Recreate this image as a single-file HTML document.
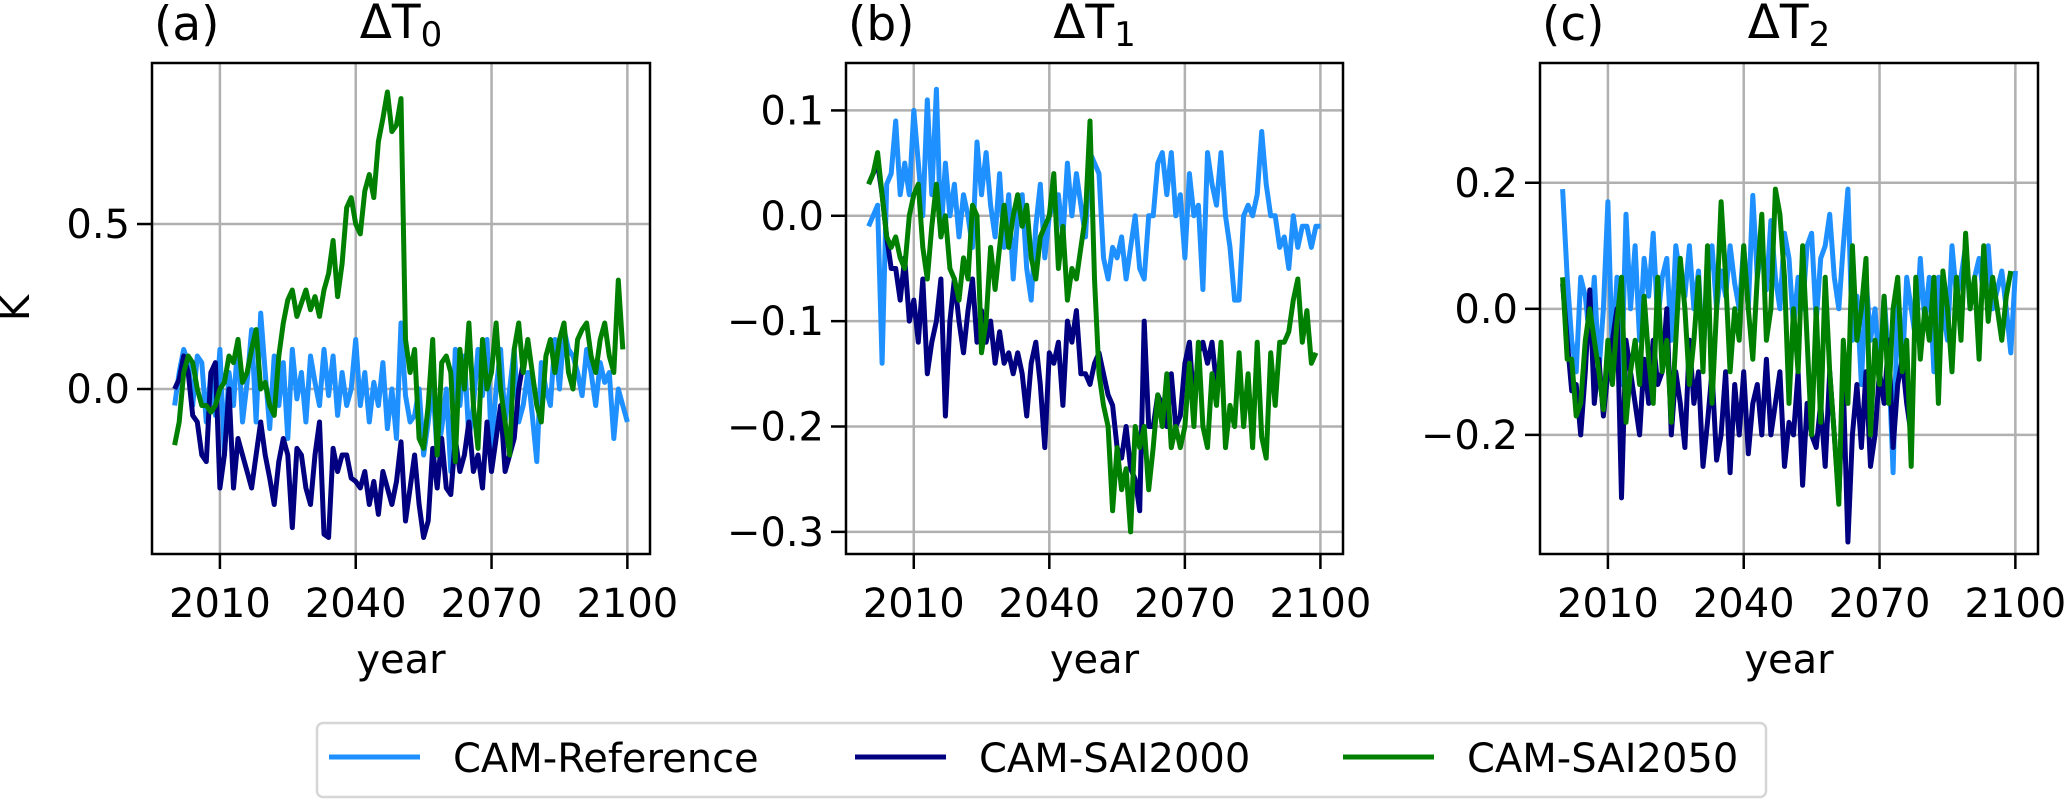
<!DOCTYPE html>
<html><head><meta charset="utf-8"><style>
html,body{margin:0;padding:0;background:#fff;}
svg{display:block;font-family:"DejaVu Sans","Liberation Sans",sans-serif;}
</style></head><body>
<svg id="chart" width="2067" height="800" viewBox="0 0 2067 800"></svg>
<script>
const years0 = 2000;
const xTicks = [2010, 2040, 2070, 2100];
const seriesNames = ["CAM-Reference", "CAM-SAI2000", "CAM-SAI2050"];
const aRef = [-0.05,0.05,0.12,0.08,-0.05,0.1,0.08,-0.1,0.05,-0.08,0.12,-0.2,0.05,-0.05,0.15,-0.1,0.02,0.18,-0.1,0.23,0.05,-0.12,0.1,-0.05,0.08,-0.15,0.12,-0.03,0.05,-0.1,0.1,0.02,-0.05,0.12,-0.02,0.1,-0.08,0.05,-0.05,0.0,0.15,-0.05,0.05,-0.1,0.02,-0.05,0.08,-0.12,0.0,-0.15,0.2,-0.02,-0.1,-0.08,0.0,-0.2,-0.1,0.02,-0.2,-0.12,0.0,-0.25,0.12,-0.05,0.1,-0.15,-0.05,0.12,-0.02,0.15,-0.18,0.0,0.12,-0.1,0.0,0.12,-0.1,-0.05,0.05,-0.08,-0.22,0.08,0.0,-0.05,0.15,0.0,0.18,0.12,0.1,0.05,-0.02,0.12,0.05,-0.05,0.08,0.02,0.05,-0.15,0.0,-0.05,-0.1];
const aSai2000 = [0.0,0.03,0.1,0.05,-0.08,-0.1,-0.2,-0.22,0.05,0.08,-0.3,-0.2,0.0,-0.3,-0.15,-0.2,-0.25,-0.3,-0.2,-0.1,-0.2,-0.27,-0.35,-0.22,-0.15,-0.2,-0.42,-0.18,-0.2,-0.3,-0.35,-0.2,-0.1,-0.44,-0.45,-0.18,-0.25,-0.2,-0.2,-0.27,-0.28,-0.3,-0.25,-0.35,-0.28,-0.38,-0.25,-0.3,-0.35,-0.28,-0.16,-0.4,-0.3,-0.2,-0.35,-0.45,-0.4,-0.18,-0.3,-0.15,-0.3,-0.32,-0.15,-0.25,-0.2,-0.1,-0.25,-0.2,-0.3,-0.1,-0.25,-0.15,-0.05,-0.25,-0.2,-0.15,0.0,0.08];
const aSai2050 = [-0.17,-0.1,0.05,0.1,0.08,0.0,-0.05,-0.05,-0.07,-0.05,0.0,0.02,0.1,0.08,0.15,0.02,0.05,0.12,0.18,0.0,0.02,-0.05,-0.08,0.1,0.2,0.27,0.3,0.22,0.26,0.3,0.24,0.28,0.22,0.3,0.35,0.45,0.28,0.38,0.55,0.58,0.5,0.47,0.6,0.65,0.58,0.75,0.82,0.9,0.78,0.8,0.88,0.15,0.05,0.12,-0.15,-0.18,-0.05,0.15,-0.2,0.08,0.1,0.05,-0.22,0.12,0.0,0.2,-0.05,-0.18,0.15,0.0,0.05,0.2,0.0,-0.1,-0.2,0.12,0.2,0.05,0.15,0.05,-0.05,-0.1,0.1,0.15,0.05,0.15,0.2,0.05,0.0,0.15,0.18,0.2,0.1,0.05,0.15,0.2,0.1,0.05,0.33,0.12];
const bRef = [-0.01,0.0,0.01,-0.14,0.03,0.04,0.09,0.02,0.05,0.02,0.1,0.05,0.0,0.11,0.02,0.12,-0.02,0.05,0.0,0.03,-0.02,0.02,0.0,-0.03,0.07,0.02,0.06,0.01,-0.02,0.04,-0.03,0.02,-0.06,0.0,0.02,-0.05,-0.08,-0.01,0.03,-0.04,0.0,0.01,0.02,-0.02,0.05,0.0,0.04,0.01,-0.02,0.06,0.05,0.04,-0.04,-0.06,-0.03,-0.04,-0.02,-0.06,-0.03,0.0,-0.05,-0.06,0.0,0.0,0.05,0.06,0.02,0.06,0.0,0.02,-0.04,0.04,0.0,0.01,-0.07,0.06,0.03,0.01,0.06,0.0,-0.03,-0.08,-0.08,0.0,0.01,0.0,0.02,0.08,0.03,0.0,0.0,-0.03,-0.02,-0.05,0.0,-0.03,-0.01,-0.01,-0.03,-0.01,-0.01];
const bSai2000 = [0.03,0.04,0.05,0.02,-0.02,-0.05,-0.05,-0.08,-0.04,-0.1,-0.08,-0.12,-0.06,-0.15,-0.12,-0.1,-0.06,-0.19,-0.1,-0.06,-0.1,-0.13,-0.09,-0.06,-0.12,-0.09,-0.12,-0.1,-0.14,-0.11,-0.14,-0.13,-0.15,-0.13,-0.15,-0.19,-0.14,-0.12,-0.16,-0.22,-0.13,-0.14,-0.12,-0.18,-0.1,-0.12,-0.09,-0.15,-0.15,-0.16,-0.14,-0.13,-0.15,-0.17,-0.18,-0.22,-0.23,-0.2,-0.24,-0.25,-0.28,-0.1,-0.2,-0.2,-0.17,-0.18,-0.2,-0.15,-0.2,-0.19,-0.14,-0.12,-0.18,-0.13,-0.12,-0.14,-0.12,-0.16];
const bSai2050 = [0.03,0.04,0.06,0.02,-0.02,-0.03,-0.02,-0.04,-0.05,0.0,0.02,0.03,-0.03,-0.06,-0.01,0.03,-0.02,0.0,-0.05,-0.06,-0.08,-0.04,-0.06,0.01,0.0,-0.13,-0.1,-0.03,-0.07,-0.03,0.01,-0.03,0.0,0.02,-0.01,0.01,-0.04,-0.06,-0.02,-0.01,0.0,0.04,-0.05,-0.01,-0.08,-0.05,-0.06,-0.03,0.0,0.09,-0.06,-0.15,-0.18,-0.2,-0.28,-0.22,-0.26,-0.24,-0.3,-0.2,-0.22,-0.2,-0.26,-0.22,-0.17,-0.2,-0.15,-0.22,-0.2,-0.22,-0.2,-0.14,-0.2,-0.12,-0.2,-0.22,-0.15,-0.18,-0.12,-0.22,-0.18,-0.2,-0.13,-0.2,-0.15,-0.22,-0.12,-0.21,-0.23,-0.13,-0.18,-0.12,-0.12,-0.11,-0.08,-0.06,-0.12,-0.09,-0.14,-0.13];
const cRef = [0.19,0.05,-0.05,-0.1,0.05,0.02,-0.05,0.05,-0.1,0.0,0.17,-0.08,0.05,-0.12,0.15,0.0,0.1,-0.05,0.08,0.02,0.12,-0.02,0.05,0.08,-0.05,0.1,0.05,0.02,0.1,0.0,0.06,-0.08,0.05,0.1,0.0,0.06,0.02,0.1,0.04,0.0,0.1,0.0,0.18,0.05,0.1,0.03,0.14,0.05,0.0,0.12,0.08,-0.03,0.05,0.0,0.1,0.12,-0.02,0.08,0.1,0.15,0.05,0.0,0.1,0.19,-0.05,0.02,-0.12,0.05,-0.05,0.0,-0.1,0.02,-0.08,-0.26,0.02,-0.1,0.05,0.0,-0.05,0.08,-0.02,0.05,-0.1,0.05,0.0,-0.05,0.1,0.02,0.05,0.1,0.0,0.05,0.08,0.02,0.1,0.0,0.03,0.06,0.0,-0.07,0.06];
const cSai2000 = [0.04,-0.05,-0.13,-0.12,-0.2,-0.1,0.03,-0.15,-0.08,-0.17,-0.1,-0.05,0.0,-0.3,-0.05,-0.1,-0.15,-0.2,-0.08,-0.15,-0.05,-0.12,-0.1,0.0,-0.2,-0.1,-0.15,-0.22,-0.05,-0.15,-0.1,-0.25,-0.18,-0.1,-0.24,-0.2,-0.1,-0.26,-0.12,-0.2,-0.1,-0.23,-0.15,-0.12,-0.2,-0.08,-0.2,-0.15,-0.1,-0.25,-0.18,-0.2,-0.1,-0.28,-0.15,-0.2,-0.22,-0.15,-0.25,-0.1,-0.2,-0.3,-0.12,-0.37,-0.2,-0.12,-0.22,-0.1,-0.25,-0.2,-0.1,-0.15,-0.05,-0.22,-0.12,-0.08,-0.15,-0.2];
const cSai2050 = [0.05,-0.08,-0.08,-0.17,-0.15,-0.05,0.0,-0.05,-0.1,-0.16,-0.05,-0.12,-0.02,0.05,-0.18,-0.1,-0.05,-0.12,0.02,-0.08,-0.15,0.05,-0.1,-0.05,-0.18,-0.05,0.08,0.0,-0.12,-0.05,0.05,-0.1,0.1,-0.15,0.0,0.17,0.05,-0.1,0.0,-0.05,0.1,0.0,-0.08,0.05,0.15,-0.05,0.0,0.19,0.15,0.05,-0.15,0.0,-0.1,0.1,-0.05,-0.2,0.0,-0.18,0.05,-0.1,-0.2,-0.31,-0.05,-0.15,0.1,-0.05,0.0,0.08,-0.2,-0.05,-0.12,0.02,-0.15,0.0,0.05,-0.1,-0.05,-0.25,0.05,-0.08,0.0,-0.05,0.05,-0.15,0.06,0.0,-0.1,0.05,-0.05,0.12,0.0,0.05,-0.08,0.1,-0.02,0.05,0.0,-0.05,0.02,0.06];
const aYTicks = [0.0, 0.5];
const bYTicks = [-0.3, -0.2, -0.1, 0.0, 0.1];
const cYTicks = [-0.2, 0.0, 0.2];

const NS = "http://www.w3.org/2000/svg";
const svg = document.getElementById('chart');
const colors = ["#1e90ff", "#000080", "#008000"];
function mk(tag, attrs, parent) {
  const e = document.createElementNS(NS, tag);
  for (const k in attrs) e.setAttribute(k, attrs[k]);
  (parent || svg).appendChild(e);
  return e;
}
function fmt(v) { const s = v.toFixed(1); return v < 0 ? "\u2212" + s.slice(1) : s; }

const panels = [
  {id:"a", x0:152, x1:650, ymin:-0.5, ymax:0.988, ticks:aYTicks, data:[aRef,aSai2000,aSai2050], sub:"0"},
  {id:"b", x0:846, x1:1343, ymin:-0.321, ymax:0.145, ticks:bYTicks, data:[bRef,bSai2000,bSai2050], sub:"1"},
  {id:"c", x0:1540, x1:2038, ymin:-0.389, ymax:0.39, ticks:cYTicks, data:[cRef,cSai2000,cSai2050], sub:"2"}
];
const Y0 = 63, Y1 = 554, XMIN = 1995, XMAX = 2105;

panels.forEach(p => {
  const g = mk('g', {});
  
  
  const sx = yr => p.x0 + (yr - XMIN) / (XMAX - XMIN) * (p.x1 - p.x0);
  const sy = v => Y1 - (v - p.ymin) / (p.ymax - p.ymin) * (Y1 - Y0);
  xTicks.forEach(t => {
    const l = mk('line', {x1:sx(t), x2:sx(t), y1:Y0, y2:Y1, stroke:"#b0b0b0", "stroke-width":2.5}, g);
    
    
    const tk = mk('line', {x1:sx(t), x2:sx(t), y1:Y1, y2:Y1+15, stroke:"#000", "stroke-width":2.5}, g);
    
    
    const tx = mk('text', {x:sx(t), y:617, "text-anchor":"middle", "font-size":40, fill:"#000"}, g);
    
    
    tx.textContent = t;
  });
  p.ticks.forEach(t => {
    const l = mk('line', {x1:p.x0, x2:p.x1, y1:sy(t), y2:sy(t), stroke:"#b0b0b0", "stroke-width":2.5}, g);
    
    
    const tk = mk('line', {x1:p.x0-15, x2:p.x0, y1:sy(t), y2:sy(t), stroke:"#000", "stroke-width":2.5}, g);
    
    
    const tx = mk('text', {x:p.x0-22, y:sy(t)+14, "text-anchor":"end", "font-size":40, fill:"#000"}, g);
    
    
    tx.textContent = fmt(t);
  });
  p.data.forEach((arr, si) => {
    const pts = arr.map((v, i) => sx(years0 + i).toFixed(1) + "," + sy(v).toFixed(1)).join(" ");
    const pl = mk('polyline', {points:pts, fill:"none", stroke:colors[si], "stroke-width":5, "stroke-linejoin":"round"}, g);
    
    
  });
  const box = mk('rect', {x:p.x0, y:Y0, width:p.x1-p.x0, height:Y1-Y0, fill:"none", stroke:"#000", "stroke-width":2.5}, g);
  
  
  const lab = mk('text', {x:p.x0+2, y:40, "font-size":47, fill:"#000"}, g);
  
  
  lab.textContent = "(" + p.id + ")";
  const tt = mk('text', {x:(p.x0+p.x1)/2, y:38, "text-anchor":"middle", "font-size":47, fill:"#000"}, g);
  
  
  tt.innerHTML = '\u0394T<tspan font-size="34" dy="8">' + p.sub + '</tspan>';
  const xl = mk('text', {x:(p.x0+p.x1)/2, y:673, "text-anchor":"middle", "font-size":40, fill:"#000"}, g);
  
  
  xl.textContent = "year";
});
const yl = mk('text', {x:0, y:0, "text-anchor":"middle", "font-size":40, fill:"#000", transform:"translate(29,308) rotate(-90)"});


yl.textContent = "K";

const lg = mk('g', {});


const lr = mk('rect', {x:317, y:723, width:1449, height:74, rx:6, fill:"#fff", stroke:"#d6d6d6", "stroke-width":2.5}, lg);


const legX = [329, 855, 1343];
seriesNames.forEach((n, i) => {
  const ln = mk('line', {x1:legX[i], x2:legX[i]+91, y1:757, y2:757, stroke:colors[i], "stroke-width":5}, lg);
  
  
  const t = mk('text', {x:legX[i]+124, y:772, "font-size":40, fill:"#000"}, lg);
  
  
  t.textContent = n;
});
</script>
</body></html>
